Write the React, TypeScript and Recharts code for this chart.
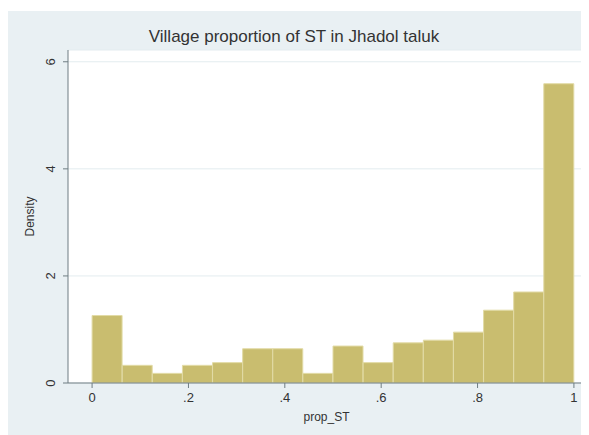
import { ComposedChart, Bar, XAxis, YAxis, CartesianGrid } from "recharts";

// 16 bins of width 1/16 over prop_ST, density
const binMids = [
  0.03125, 0.09375, 0.15625, 0.21875, 0.28125, 0.34375, 0.40625, 0.46875,
  0.53125, 0.59375, 0.65625, 0.71875, 0.78125, 0.84375, 0.90625, 0.96875,
];
const density = [
  1.26, 0.33, 0.18, 0.33, 0.38, 0.64, 0.64, 0.18,
  0.69, 0.38, 0.75, 0.8, 0.95, 1.36, 1.7, 5.59,
];
const xTicks = [0, 0.2, 0.4, 0.6, 0.8, 1];
const yTicks = [0, 2, 4, 6];

const data = binMids.map((x, i) => ({ x, density: density[i] }));

const FONT = "'Liberation Sans', Arial, sans-serif";
const AXIS_COLOR = "#6f7d82";
const LABEL_COLOR = "#333";

const fmtX = (v: number) => (v === 0 ? "0" : v === 1 ? "1" : String(v).replace(/^0/, ""));

function YTick({ x, y, payload }: any) {
  return (
    <text
      x={x}
      y={y}
      transform={`rotate(-90 ${x} ${y})`}
      textAnchor="middle"
      dy={-6}
      fill={LABEL_COLOR}
      fontSize={13}
      fontFamily={FONT}
    >
      {payload.value}
    </text>
  );
}

export default function App() {
  return (
    <div
      style={{
        position: "relative",
        marginTop: 3,
        width: 581,
        height: 424,
        background: "#e9f0f3",
        fontFamily: FONT,
      }}
    >
      <div
        style={{
          position: "absolute",
          top: 15,
          left: 0,
          width: 572,
          textAlign: "center",
          fontSize: 17,
          color: LABEL_COLOR,
          lineHeight: "22px",
        }}
      >
        Village proportion of ST in Jhadol taluk
      </div>
      <ComposedChart
        width={581}
        height={424}
        data={data}
        margin={{ top: 39, right: 4, bottom: 10, left: 30 }}
        barCategoryGap={0}
        barGap={0}
      >
        <CartesianGrid vertical={false} fill="#ffffff" stroke="#e3ecef" />
        <XAxis
          dataKey="x"
          type="number"
          domain={[-0.05, 1.023]}
          ticks={xTicks}
          tickFormatter={fmtX}
          allowDataOverflow
          height={42}
          stroke={AXIS_COLOR}
          tickSize={5}
          tickMargin={5}
          tick={{ fill: LABEL_COLOR, fontSize: 13, fontFamily: FONT }}
          label={{
            value: "prop_ST",
            position: "insideBottom",
            offset: 4,
            fill: LABEL_COLOR,
            fontSize: 12,
            fontFamily: FONT,
          }}
        />
        <YAxis
          type="number"
          domain={[0, 6.22]}
          ticks={yTicks}
          allowDataOverflow
          width={30}
          stroke={AXIS_COLOR}
          tickSize={5}
          tick={<YTick />}
          label={{
            value: "Density",
            angle: -90,
            position: "insideLeft",
            offset: -8,
            fill: LABEL_COLOR,
            fontSize: 12,
            fontFamily: FONT,
            style: { textAnchor: "middle" },
          }}
        />
        <Bar
          dataKey="density"
          fill="#c9bd6f"
          stroke="#e2dba6"
          strokeWidth={1}
          isAnimationActive={false}
        />
      </ComposedChart>
    </div>
  );
}
